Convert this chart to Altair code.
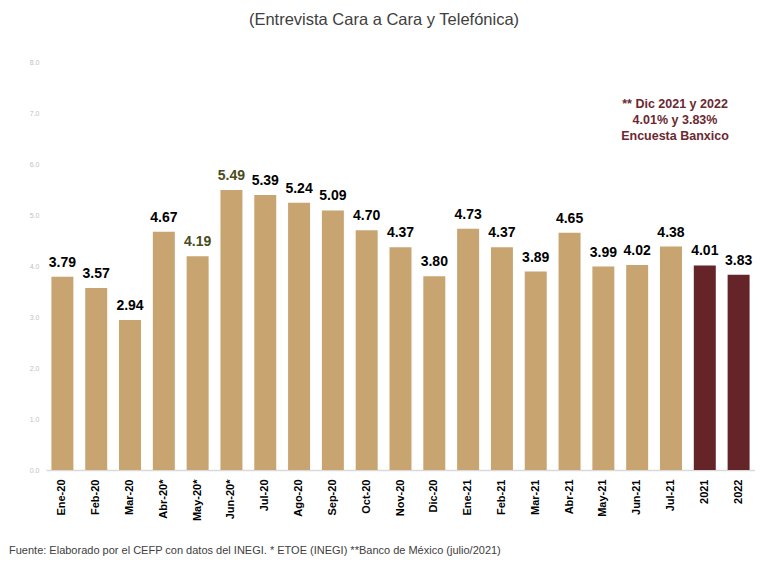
import altair as alt
import pandas as pd

CATEGORIES = ["Ene-20", "Feb-20", "Mar-20", "Abr-20*", "May-20*", "Jun-20*", "Jul-20",
              "Ago-20", "Sep-20", "Oct-20", "Nov-20", "Dic-20", "Ene-21", "Feb-21",
              "Mar-21", "Abr-21", "May-21", "Jun-21", "Jul-21", "2021", "2022"]
VALUES = [3.79, 3.57, 2.94, 4.67, 4.19, 5.49, 5.39, 5.24, 5.09, 4.70, 4.37, 3.80,
          4.73, 4.37, 3.89, 4.65, 3.99, 4.02, 4.38, 4.01, 3.83]
FORECAST = ["2021", "2022"]
OLIVE_LABELS = ["May-20*", "Jun-20*"]
Y_TICKS = [0, 1, 2, 3, 4, 5, 6, 7, 8]
TITLE = "(Entrevista Cara a Cara y Telefónica)"
FOOTER = "Fuente: Elaborado por el CEFP con datos del INEGI.  * ETOE (INEGI) **Banco de México (julio/2021)"
ANNOT_LINES = ["** Dic 2021 y 2022", "4.01% y 3.83%", "Encuesta Banxico"]

df = pd.DataFrame({"cat": CATEGORIES, "val": VALUES})
df["label"] = df["val"].map(lambda v: f"{v:.2f}")

W, H = 709, 408
FONT = "Liberation Sans, Arial, sans-serif"

x = alt.X("cat:N", sort=CATEGORIES, title=None,
          scale=alt.Scale(paddingInner=0.35, paddingOuter=0.16),
          axis=alt.Axis(labelAngle=-90, labelFont=FONT, labelFontWeight="bold",
                        labelFontSize=11, labelColor="#000000", labelPadding=9,
                        ticks=False, domainColor="#d9d9d9", domainWidth=1.5))
y = alt.Y("val:Q", title=None, scale=alt.Scale(domain=[0, 8], nice=False),
          axis=alt.Axis(values=Y_TICKS, format=".1f", grid=False, ticks=False, domain=False,
                        labelFontSize=7, labelColor="#bfbfbf", labelPadding=7,
                        labelFont=FONT))

base = alt.Chart(df)

bars = base.mark_bar().encode(
    x=x, y=y,
    color=alt.condition(alt.FieldOneOfPredicate(field="cat", oneOf=FORECAST),
                        alt.value("#642428"), alt.value("#C8A470")),
)

labels = base.mark_text(baseline="bottom", dy=-7, font=FONT, fontWeight="bold",
                        fontSize=14).encode(
    x=alt.X("cat:N", sort=CATEGORIES),
    y="val:Q",
    text="label:N",
    color=alt.condition(alt.FieldOneOfPredicate(field="cat", oneOf=OLIVE_LABELS),
                        alt.value("#4a4a1c"), alt.value("#000000")),
)

one = alt.Chart(pd.DataFrame({"k": [0]}))

title = one.mark_text(text=TITLE, font=FONT, fontSize=16.5, color="#404040",
                      align="center", baseline="middle").encode(
    x=alt.value(338), y=alt.value(-42))

footer = one.mark_text(text=FOOTER, font=FONT, fontSize=11, color="#404040",
                       align="left", baseline="middle").encode(
    x=alt.value(-37), y=alt.value(489))

annot = one.mark_text(text=ANNOT_LINES, font=FONT, fontSize=12.5, fontWeight="bold",
                      color="#6B2830", align="center", baseline="middle",
                      lineHeight=16).encode(
    x=alt.value(629), y=alt.value(42))

chart = alt.layer(bars, labels, title, footer, annot).properties(
    width=W, height=H,
    autosize=alt.AutoSizeParams(type="none"),
    padding={"left": 38, "top": 54, "right": 0, "bottom": 89},
).configure(background="white").configure_view(stroke=None, strokeWidth=0)

chart.save("out.html", embed_options={"renderer": "svg", "actions": False})
